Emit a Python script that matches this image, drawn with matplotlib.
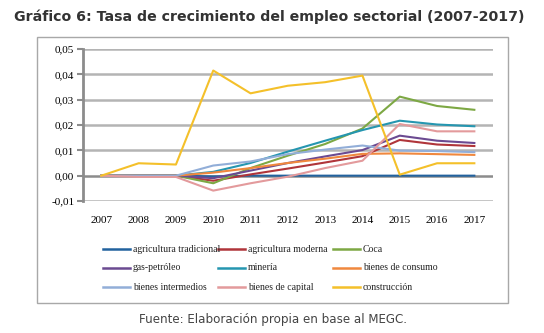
import matplotlib.pyplot as plt
from matplotlib.lines import Line2D
from matplotlib.patches import Rectangle

years = ['2007', '2008', '2009', '2010', '2011', '2012', '2013', '2014', '2015', '2016', '2017']

agricultura_tradicional = [0, 0, 0, -0.0003, 0, 0, 0, 0, 0, 0, 0]
agricultura_moderna = [0, 0, 0, -0.002, 0.0005, 0.0028, 0.0052, 0.0077, 0.0141, 0.0123, 0.0117]
coca = [0, 0, 0, -0.003, 0.003, 0.0079, 0.0125, 0.0186, 0.0312, 0.0275, 0.026]
gas_petroleo = [0, 0, 0, -0.001, 0.002, 0.005, 0.0076, 0.0101, 0.0158, 0.0138, 0.0129]
mineria = [0, 0, 0, 0.0015, 0.005, 0.0095, 0.0138, 0.018, 0.0217, 0.0202, 0.0195]
bienes_consumo = [0, 0, 0, 0.0012, 0.003, 0.005, 0.0067, 0.0086, 0.0088, 0.0085, 0.0082]
bienes_intermedios = [0, 0, 0, 0.004, 0.0056, 0.0085, 0.0103, 0.0119, 0.0099, 0.0097, 0.0093]
bienes_capital = [0, -0.0005, -0.0005, -0.0059, -0.003, -0.0004, 0.003, 0.0059, 0.0204, 0.0175, 0.0175]
construccion = [0, 0.0049, 0.0044, 0.0415, 0.0325, 0.0355, 0.0369, 0.0395, 0.0004, 0.0049, 0.0049]

series = [
    ('agricultura tradicional', agricultura_tradicional, '#22629E'),
    ('agricultura moderna', agricultura_moderna, '#B0353A'),
    ('Coca', coca, '#7DA844'),
    ('gas-petróleo', gas_petroleo, '#6B4A91'),
    ('minería', mineria, '#2596B0'),
    ('bienes de consumo', bienes_consumo, '#F0883E'),
    ('bienes intermedios', bienes_intermedios, '#92AED8'),
    ('bienes de capital', bienes_capital, '#E39A9C'),
    ('construcción', construccion, '#F4C02A'),
]

W, H = 544, 333
fig = plt.figure(figsize=(W / 100, H / 100), dpi=100)

# outer frame of the chart
fig.patches.append(Rectangle((37 / W, 1 - 303 / H), 471 / W, 266 / H,
                             transform=fig.transFigure, fill=False,
                             edgecolor='#A8A8A8', linewidth=1))

ax = fig.add_axes([82.7 / W, 1 - 201 / H, 410.3 / W, 152 / H])
x = list(range(len(years)))

for v in [-0.01, 0.01, 0.02, 0.03, 0.04, 0.05]:
    ax.axhline(v, color='#B4B4B4', linewidth=1.8, zorder=0)
ax.axhline(0, color='#8C8C8C', linewidth=1.8, zorder=1)
ax.vlines([i + 0.5 for i in x], -0.0006, 0, color='#8C8C8C', linewidth=1.2, zorder=1)

for name, vals, col in series:
    ax.plot(x, vals, color=col, linewidth=1.5, label=name, zorder=3)

ax.set_xlim(-0.5, 10.5)
ax.set_ylim(-0.01, 0.05)
ax.set_yticks([-0.01, 0, 0.01, 0.02, 0.03, 0.04, 0.05])
ax.set_yticklabels(['-0,01', '0,00', '0,01', '0,02', '0,03', '0,04', '0,05'],
                   family='Liberation Serif', fontsize=8)
ax.set_xticks(x)
ax.set_xticklabels(years, family='Liberation Serif', fontsize=8)
ax.tick_params(axis='x', length=0, pad=11)
ax.tick_params(axis='y', length=4, width=1.5, color='#8C8C8C', pad=2)
for s in ['top', 'right', 'bottom']:
    ax.spines[s].set_visible(False)
ax.spines['left'].set_color('#8C8C8C')
ax.spines['left'].set_linewidth(2)

# legend, row by row
for i, (name, vals, col) in enumerate(series):
    r, c = divmod(i, 3)
    x0 = 103 + 115 * c
    yy = 1 - (249 + 19 * r) / H
    fig.add_artist(Line2D([x0 / W, (x0 + 27) / W], [yy, yy], transform=fig.transFigure,
                          color=col, linewidth=1.8))
    fig.text((x0 + 30) / W, yy, name, family='Liberation Serif', fontsize=7,
             va='center', ha='left', color='#222222')

fig.text(269 / W, 1 - 17 / H, 'Gráfico 6: Tasa de crecimiento del empleo sectorial (2007-2017)',
         ha='center', va='center', fontsize=10.2, fontweight='bold', family='DejaVu Sans',
         color='#333333')
fig.text(273 / W, 1 - 319 / H, 'Fuente: Elaboración propia en base al MEGC.',
         ha='center', va='center', fontsize=8.6, family='DejaVu Sans', color='#444444')

fig.savefig('out.png', dpi=100)
